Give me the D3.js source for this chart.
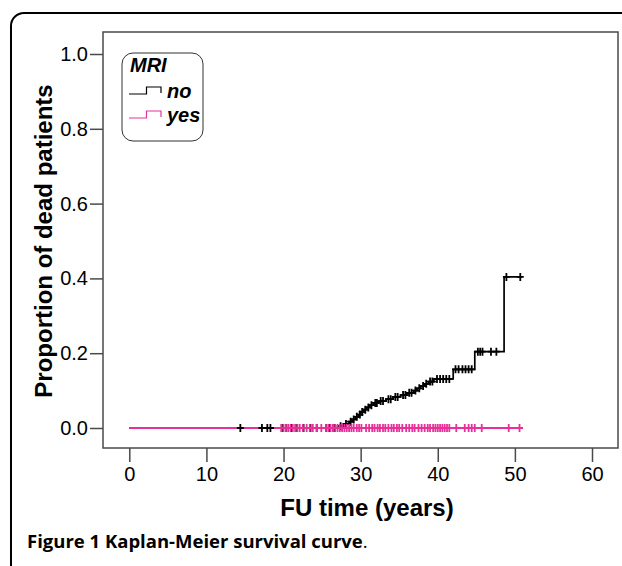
<!DOCTYPE html>
<html>
<head>
<meta charset="utf-8">
<script src="https://cdn.jsdelivr.net/npm/d3@7"></script>
<style>
  body { margin: 0; background: #fff; }
  svg { display: block; }
</style>
</head>
<body>
<svg id="chart" width="622" height="566"></svg>
<script>
// Kaplan-Meier: cumulative proportion of dead patients, by MRI
const xTicks = [0, 10, 20, 30, 40, 50, 60];
const yTicks = [0, 0.2, 0.4, 0.6, 0.8, 1.0];

// group "no": event times and cumulative proportion after each event
const noEventTimes = [27.0, 27.8, 28.5, 28.9, 29.3, 29.7, 30.0, 30.4, 30.8, 31.2, 31.7, 32.3, 33.3, 34.2, 35.2, 36.0, 36.9, 37.3, 37.8, 38.3, 38.8, 39.5, 42.0, 44.8, 48.6];
const noEventProp = [0.005, 0.011, 0.017, 0.023, 0.030, 0.036, 0.043, 0.049, 0.055, 0.061, 0.067, 0.072, 0.077, 0.083, 0.088, 0.094, 0.100, 0.106, 0.112, 0.118, 0.124, 0.131, 0.157, 0.204, 0.404];
const noEnd = 50.9;
const noCensored = [14.4, 17.2, 17.9, 18.3, 19.8, 20.3, 21.0, 21.6, 22.6, 23.5, 24.3, 25.5, 25.9, 26.6, 27.4, 28.1, 28.7, 29.1, 29.5, 29.9, 30.2, 30.6, 31.0, 31.4, 31.9, 32.1, 32.6, 32.9, 33.6, 33.9, 34.5, 34.8, 35.5, 35.8, 36.3, 36.6, 37.1, 37.6, 38.1, 38.5, 39.0, 39.3, 39.9, 40.3, 40.7, 41.1, 41.5, 42.3, 42.7, 43.2, 43.6, 44.0, 44.4, 45.2, 45.5, 45.8, 46.9, 47.6, 48.9, 50.7];

// group "yes": no events, only censored
const yesEnd = 50.8;
const yesCensored = [19.7, 20.0, 20.3, 20.6, 20.9, 21.2, 21.5, 21.8, 22.1, 22.5, 23.0, 23.4, 23.8, 24.3, 24.9, 25.5, 25.8, 26.1, 26.4, 26.7, 27.0, 27.3, 27.6, 27.9, 28.2, 28.5, 28.8, 29.1, 29.5, 29.8, 30.1, 30.7, 31.1, 31.5, 31.8, 32.2, 32.5, 32.9, 33.2, 33.6, 34.0, 34.3, 34.7, 35.0, 35.4, 35.9, 36.3, 36.7, 37.0, 37.5, 37.9, 38.3, 38.7, 39.0, 39.4, 39.7, 40.0, 40.3, 40.6, 40.9, 41.2, 41.5, 42.4, 43.5, 44.0, 44.4, 44.8, 45.7, 49.2, 50.6];

const pink = "#e8309a";
const frameCol = "#4a4a4a";
const axisFont = "'Liberation Sans', Arial, sans-serif";

const svg = d3.select("#chart");

// outer panel border (runs off the right and bottom)
svg.append("rect")
  .attr("x", 11).attr("y", 13)
  .attr("width", 700).attr("height", 700)
  .attr("rx", 13)
  .attr("fill", "#fff")
  .attr("stroke", "#000")
  .attr("stroke-width", 2);

const frame = {left: 103, top: 32, right: 618, bottom: 448};

const x = d3.scaleLinear([0, 60], [129.3, 592]);
const y = d3.scaleLinear([0, 1], [428, 54]);

svg.append("rect")
  .attr("x", frame.left).attr("y", frame.top)
  .attr("width", frame.right - frame.left)
  .attr("height", frame.bottom - frame.top)
  .attr("fill", "#fff")
  .attr("stroke", frameCol)
  .attr("stroke-width", 1.5);

// axes
const xAxis = svg.append("g")
  .attr("transform", "translate(0," + frame.bottom + ")")
  .call(d3.axisBottom(x).tickValues(xTicks).tickSize(14).tickPadding(5).tickFormat(d3.format("d")));
const yAxis = svg.append("g")
  .attr("transform", "translate(" + frame.left + ",0)")
  .call(d3.axisLeft(y).tickValues(yTicks).tickSize(13).tickPadding(2).tickFormat(d3.format(".1f")));

[xAxis, yAxis].forEach(g => {
  g.select(".domain").remove();
  g.selectAll(".tick line").attr("stroke", frameCol).attr("stroke-width", 1.5);
  g.selectAll(".tick text")
    .attr("fill", "#000")
    .style("font-family", axisFont)
    .style("font-size", "20px");
});

// step paths
const noPts = [[0, 0]].concat(noEventTimes.map((t, i) => [t, noEventProp[i]]));
noPts.push([noEnd, noEventProp[noEventProp.length - 1]]);
const yesPts = [[0, 0], [yesEnd, 0]];

const step = d3.line()
  .x(d => x(d[0]))
  .y(d => y(d[1]))
  .curve(d3.curveStepAfter);

const noAt = t => {
  let p = 0;
  noEventTimes.forEach((e, i) => { if (e <= t) p = noEventProp[i]; });
  return p;
};

function crosses(data, yval, color) {
  const g = svg.append("g").attr("stroke", color).attr("stroke-width", 1.8);
  g.selectAll("path")
    .data(data)
    .join("path")
    .attr("d", t => {
      const cx = x(t), cy = y(yval(t));
      return "M" + (cx - 3.5) + "," + cy + "H" + (cx + 3.5) + "M" + cx + "," + (cy - 4) + "V" + (cy + 4);
    });
}

svg.append("path")
  .attr("d", step(noPts))
  .attr("fill", "none")
  .attr("stroke", "#000")
  .attr("stroke-width", 1.7);

svg.append("path")
  .attr("d", step(yesPts))
  .attr("fill", "none")
  .attr("stroke", pink)
  .attr("stroke-width", 2);

crosses(noCensored, noAt, "#000");
crosses(yesCensored, () => 0, pink);

// legend
const leg = svg.append("g");
leg.append("rect")
  .attr("x", 122).attr("y", 53)
  .attr("width", 81).attr("height", 88)
  .attr("rx", 11)
  .attr("fill", "#fff")
  .attr("stroke", "#333")
  .attr("stroke-width", 1);
leg.append("text")
  .attr("x", 130).attr("y", 72)
  .text("MRI");
const legItems = [{label: "no", color: "#000", y: 94}, {label: "yes", color: pink, y: 118}];
legItems.forEach(d => {
  leg.append("path")
    .attr("d", "M129," + d.y + "H146.5V" + (d.y - 7) + "H161V" + (d.y - 1))
    .attr("fill", "none")
    .attr("stroke", d.color)
    .attr("stroke-width", 1.2);
  leg.append("text")
    .attr("x", 167).attr("y", d.y + 4)
    .text(d.label);
});
leg.selectAll("text")
  .style("font-family", axisFont)
  .style("font-weight", "bold")
  .style("font-style", "italic")
  .style("font-size", "20px");

// axis titles
svg.append("text")
  .attr("x", 367).attr("y", 516)
  .attr("text-anchor", "middle")
  .style("font-family", axisFont)
  .style("font-weight", "bold")
  .style("font-size", "24px")
  .text("FU time (years)");

svg.append("text")
  .attr("transform", "translate(52,241) rotate(-90)")
  .attr("text-anchor", "middle")
  .style("font-family", axisFont)
  .style("font-weight", "bold")
  .style("font-size", "24px")
  .text("Proportion of dead patients");

// caption
const cap = svg.append("text")
  .attr("x", 27).attr("y", 548)
  .style("font-family", "'Open Sans', sans-serif")
  .style("font-size", "18.5px")
  .style("font-weight", "700");
cap.append("tspan").text("Figure 1 Kaplan-Meier survival curve");
cap.append("tspan").style("font-weight", "400").text(".");
</script>
</body>
</html>
